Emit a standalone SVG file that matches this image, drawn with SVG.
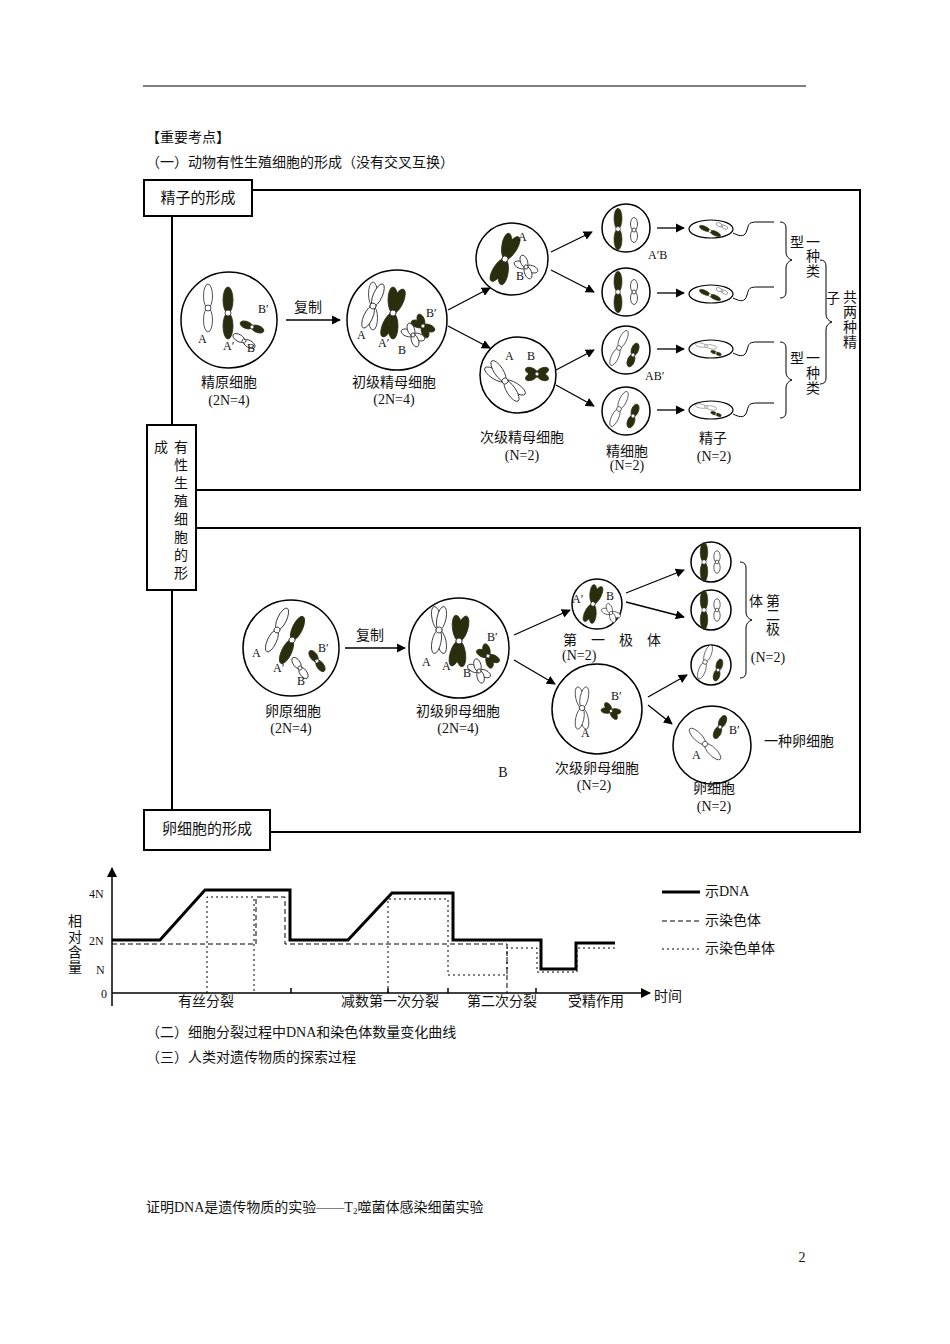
<svg xmlns="http://www.w3.org/2000/svg" width="950" height="1344" viewBox="0 0 950 1344">
<style>
text{font-family:"Liberation Serif","Noto Sans CJK SC",serif;font-size:14px;fill:#111}
.s{font-size:12px}.c{text-anchor:middle}
.w{fill:#fff;stroke:#222;stroke-width:0.8}
.d{fill:#2b2e0e;stroke:#2b2e0e;stroke-width:0.8}
.cell{fill:#fff;stroke:#000;stroke-width:1.5}
.ln{fill:none;stroke:#000;stroke-width:2}
.ar{stroke:#000;stroke-width:1.3;fill:none;marker-end:url(#ah)}
.br{fill:none;stroke:#000;stroke-width:1}
</style>
<defs>
<marker id="ah" viewBox="0 0 10 10" refX="9" refY="5" markerWidth="7" markerHeight="7" orient="auto"><path d="M0,0L10,5L0,10z"/></marker>
<g id="Lw"><ellipse class="w" cy="-12" rx="4.5" ry="12"/><ellipse class="w" cy="12" rx="4.5" ry="12"/><circle class="w" r="3"/></g>
<g id="Ld"><ellipse class="d" cy="-13" rx="5" ry="13"/><ellipse class="d" cy="13" rx="5" ry="13"/><circle class="w" r="3"/></g>
<g id="Sw"><ellipse class="w" cy="-6" rx="3.5" ry="6.5"/><ellipse class="w" cy="6" rx="3.5" ry="6.5"/><circle class="w" r="2"/></g>
<g id="Sd"><ellipse class="d" cy="-6" rx="3.5" ry="6.5"/><ellipse class="d" cy="6" rx="3.5" ry="6.5"/><circle class="w" r="2"/></g>
<g id="DLw"><use href="#Lw" transform="rotate(-12)"/><use href="#Lw" transform="rotate(12)"/></g>
<g id="DLd"><use href="#Ld" transform="rotate(-12)"/><use href="#Ld" transform="rotate(12)"/></g>
<g id="DSw"><use href="#Sw" transform="rotate(-25)"/><use href="#Sw" transform="rotate(25)"/></g>
<g id="DSd"><use href="#Sd" transform="rotate(-25)"/><use href="#Sd" transform="rotate(25)"/></g>
</defs>

<line x1="143" y1="86" x2="806" y2="86" stroke="#000" stroke-width="1.2"/>
<text x="146" y="142">【重要考点】</text>
<text x="146" y="167">（一）动物有性生殖细胞的形成（没有交叉互换）</text>

<g id="frames">
<polyline class="ln" points="252,190 860,190 860,490 196,490"/>
<polyline class="ln" points="196,528 860,528 860,832 270,832"/>
<line class="ln" x1="172" y1="216" x2="172" y2="425"/>
<line class="ln" x1="172" y1="590" x2="172" y2="810"/>
</g>
<g id="label-sperm"><rect x="144" y="180" width="108" height="36" fill="#fff" stroke="#000" stroke-width="2"/><text x="198" y="203" class="c" style="font-size:15px">精子的形成</text></g>
<g id="label-mid"><rect x="147" y="425" width="49" height="165" fill="#fff" stroke="#000" stroke-width="2"/>
<text x="161" y="452" class="c">成</text>
<text x="181" y="452" class="c">有</text><text x="181" y="470" class="c">性</text><text x="181" y="488" class="c">生</text><text x="181" y="506" class="c">殖</text><text x="181" y="524" class="c">细</text><text x="181" y="542" class="c">胞</text><text x="181" y="560" class="c">的</text><text x="181" y="578" class="c">形</text></g>
<g id="label-egg"><rect x="144" y="810" width="126" height="40" fill="#fff" stroke="#000" stroke-width="2"/><text x="207" y="834" class="c" style="font-size:15px">卵细胞的形成</text></g>

<g id="connectors">
<line class="ar" x1="286" y1="320" x2="340" y2="320"/>
<line class="ar" x1="448" y1="310" x2="490" y2="288"/>
<line class="ar" x1="448" y1="326" x2="490" y2="348"/>
<line class="ar" x1="551" y1="252" x2="592" y2="232"/>
<line class="ar" x1="551" y1="270" x2="594" y2="292"/>
<line class="ar" x1="556" y1="370" x2="594" y2="350"/>
<line class="ar" x1="556" y1="385" x2="594" y2="406"/>
<line class="ar" x1="657" y1="228" x2="684" y2="228"/>
<line class="ar" x1="657" y1="293" x2="684" y2="293"/>
<line class="ar" x1="657" y1="349" x2="684" y2="349"/>
<line class="ar" x1="657" y1="410" x2="684" y2="410"/>
<line class="ar" x1="345" y1="648" x2="405" y2="648"/>
<line class="ar" x1="514" y1="635" x2="570" y2="610"/>
<line class="ar" x1="514" y1="660" x2="555" y2="684"/>
<line class="ar" x1="626" y1="593" x2="684" y2="570"/>
<line class="ar" x1="626" y1="602" x2="684" y2="617"/>
<line class="ar" x1="648" y1="697" x2="687" y2="675"/>
<line class="ar" x1="648" y1="705" x2="672" y2="724"/>
</g>
<text x="308" y="312" class="c">复制</text>
<text x="370" y="640" class="c">复制</text>

<g id="spermatogonium"><circle class="cell" cx="229" cy="320" r="48"/>
<use href="#Lw" transform="translate(208,308)"/><use href="#Ld" transform="translate(228,313)"/>
<use href="#Sd" transform="translate(252,327) rotate(-70)"/><use href="#Sw" transform="translate(244,341) rotate(-60)"/>
<text x="198" y="343" class="s">A</text><text x="223" y="350" class="s">A′</text><text x="247" y="352" class="s">B</text><text x="258" y="313" class="s">B′</text>
<text x="229" y="387" class="c">精原细胞</text><text x="229" y="405" class="c">(2N=4)</text></g>

<g id="primary-spermatocyte"><circle class="cell" cx="397" cy="320" r="50"/>
<use href="#DLw" transform="translate(373,306) rotate(12)"/><use href="#DLd" transform="translate(393,313) rotate(12)"/>
<use href="#DSd" transform="translate(423,326) rotate(-45)"/><use href="#DSw" transform="translate(413,335) rotate(-45)"/>
<text x="357" y="339" class="s">A</text><text x="378" y="347" class="s">A′</text><text x="398" y="354" class="s">B</text><text x="426" y="317" class="s">B′</text>
<text x="394" y="387" class="c">初级精母细胞</text><text x="394" y="404" class="c">(2N=4)</text></g>

<g id="secondary-spermatocyte-1"><circle class="cell" cx="512" cy="259" r="36"/>
<use href="#DLd" transform="translate(505,259) rotate(20)"/><use href="#DSw" transform="translate(526,267) rotate(-45)"/>
<text x="518" y="241" class="s">A</text><text x="516" y="280" class="s">B</text></g>
<g id="secondary-spermatocyte-2"><circle class="cell" cx="518" cy="375" r="38"/>
<use href="#DLw" transform="translate(505,381) rotate(-45)"/><use href="#DSd" transform="translate(537,374) rotate(90)"/>
<text x="505" y="360" class="s">A</text><text x="527" y="360" class="s">B</text>
<text x="522" y="442" class="c">次级精母细胞</text><text x="522" y="460" class="c">(N=2)</text></g>

<g id="spermatids">
<circle class="cell" cx="626" cy="228" r="24"/><use href="#Ld" transform="translate(618,229) scale(0.8)"/><use href="#Sw" transform="translate(634,230)"/>
<circle class="cell" cx="626" cy="292" r="24"/><use href="#Ld" transform="translate(618,292) scale(0.8)"/><use href="#Sw" transform="translate(634,292)"/>
<circle class="cell" cx="626" cy="350" r="24"/><use href="#Lw" transform="translate(619,348) rotate(25) scale(0.8)"/><use href="#Sd" transform="translate(633,355) rotate(20)"/>
<circle class="cell" cx="626" cy="411" r="24"/><use href="#Lw" transform="translate(619,409) rotate(25) scale(0.8)"/><use href="#Sd" transform="translate(633,416) rotate(20)"/>
<text x="648" y="259" class="s">A′B</text><text x="645" y="380" class="s">AB′</text>
<text x="627" y="456" class="c">精细胞</text><text x="627" y="470" class="c">(N=2)</text></g>

<g id="sperm">
<ellipse class="cell" cx="711" cy="229" rx="22" ry="9" style="stroke-width:1.2"/><use href="#Ld" transform="translate(710,231) rotate(-65) scale(0.45)"/><use href="#Sw" transform="translate(722,226) rotate(-65) scale(0.5)"/>
<path class="br" d="M733,233 c8,4 12,4 14,-3 c2,-7 2,-8 12,-8 h15"/>
<ellipse class="cell" cx="711" cy="294" rx="22" ry="9" style="stroke-width:1.2"/><use href="#Ld" transform="translate(710,295) rotate(-65) scale(0.45)"/><use href="#Sw" transform="translate(722,291) rotate(-65) scale(0.5)"/>
<path class="br" d="M733,298 c8,4 12,4 14,-3 c2,-7 2,-8 12,-8 h15"/>
<ellipse class="cell" cx="711" cy="349" rx="22" ry="9" style="stroke-width:1.2"/><use href="#Lw" transform="translate(706,346) rotate(-80) scale(0.45)"/><use href="#Sd" transform="translate(716,353) rotate(-70) scale(0.45)"/>
<path class="br" d="M733,353 c8,4 12,4 14,-3 c2,-7 2,-8 12,-8 h15"/>
<ellipse class="cell" cx="711" cy="410" rx="22" ry="9" style="stroke-width:1.2"/><use href="#Lw" transform="translate(706,407) rotate(-80) scale(0.45)"/><use href="#Sd" transform="translate(716,414) rotate(-70) scale(0.45)"/>
<path class="br" d="M733,414 c8,4 12,4 14,-3 c2,-7 2,-8 12,-8 h15"/>
<text x="713" y="443" class="c">精子</text><text x="714" y="461" class="c">(N=2)</text></g>

<g id="braces-sperm">
<path class="br" d="M780,222 q6,0 6,6 v24 q0,6 6,8 q-6,2 -6,8 v24 q0,6 -6,6"/>
<path class="br" d="M780,342 q6,0 6,6 v24 q0,6 6,8 q-6,2 -6,8 v24 q0,6 -6,6"/>
<path class="br" d="M820,260 q6,0 6,6 v48 q0,6 6,8 q-6,2 -6,8 v48 q0,6 -6,6"/>
<text x="797" y="247" class="c">型</text><text x="813" y="247" class="c">一</text><text x="813" y="261" class="c">种</text><text x="813" y="276" class="c">类</text>
<text x="797" y="363" class="c">型</text><text x="813" y="363" class="c">一</text><text x="813" y="378" class="c">种</text><text x="813" y="393" class="c">类</text>
<text x="833" y="303" class="c">子</text><text x="850" y="302" class="c">共</text><text x="850" y="317" class="c">两</text><text x="850" y="332" class="c">种</text><text x="850" y="347" class="c">精</text></g>

<g id="oogonium"><circle class="cell" cx="291" cy="648" r="48"/>
<use href="#Lw" transform="translate(277,630) rotate(25)"/><use href="#Ld" transform="translate(292,640) rotate(25)"/>
<use href="#Sd" transform="translate(317,661) rotate(-35)"/><use href="#Sw" transform="translate(300,668) rotate(-35)"/>
<text x="252" y="657" class="s">A</text><text x="273" y="672" class="s">A′</text><text x="297" y="685" class="s">B</text><text x="318" y="652" class="s">B′</text>
<text x="293" y="716" class="c">卵原细胞</text><text x="291" y="733" class="c">(2N=4)</text></g>

<g id="primary-oocyte"><circle class="cell" cx="459" cy="648" r="50"/>
<use href="#DLw" transform="translate(439,630)"/><use href="#DLd" transform="translate(459,641) rotate(5)"/>
<use href="#DSd" transform="translate(488,656) rotate(-40)"/><use href="#DSw" transform="translate(479,671) rotate(-40)"/>
<text x="422" y="666" class="s">A</text><text x="442" y="670" class="s">A</text><text x="463" y="677" class="s">B</text><text x="487" y="641" class="s">B′</text>
<text x="458" y="716" class="c">初级卵母细胞</text><text x="458" y="733" class="c">(2N=4)</text></g>

<g id="first-polar-body"><circle class="cell" cx="597" cy="604" r="25"/>
<use href="#DLd" transform="translate(593,604) rotate(15) scale(0.75)"/><use href="#DSw" transform="translate(611,613) rotate(-45) scale(0.8)"/>
<text x="572" y="603" class="s">A′</text><text x="606" y="600" class="s">B</text>
<text x="563" y="645">第　一　极　体</text><text x="562" y="660">(N=2)</text></g>

<g id="secondary-oocyte"><circle class="cell" cx="597" cy="709" r="45"/>
<use href="#DLw" transform="translate(582,708) scale(0.9)"/><use href="#DSd" transform="translate(611,711) rotate(-60) scale(0.8)"/>
<text x="581" y="737" class="s">A</text><text x="611" y="700" class="s">B′</text>
<text x="597" y="773" class="c">次级卵母细胞</text><text x="594" y="790" class="c">(N=2)</text></g>
<text x="503" y="777" class="c">B</text>

<g id="second-polar-bodies">
<circle class="cell" cx="711" cy="562" r="20"/><use href="#Ld" transform="translate(704,562) scale(0.75)"/><use href="#Sw" transform="translate(717,562) scale(0.9)"/>
<circle class="cell" cx="711" cy="610" r="20"/><use href="#Ld" transform="translate(704,610) scale(0.75)"/><use href="#Sw" transform="translate(717,610) scale(0.9)"/>
<circle class="cell" cx="711" cy="665" r="20"/><use href="#Lw" transform="translate(705,662) rotate(20) scale(0.75)"/><use href="#Sd" transform="translate(718,670) rotate(15) scale(0.9)"/>
<path class="br" d="M740,562 q6,0 6,6 v44 q0,6 6,8 q-6,2 -6,8 v44 q0,6 -6,6"/>
<text x="756" y="606" class="c">体</text><text x="773" y="606" class="c">第</text><text x="773" y="620" class="c">二</text><text x="773" y="634" class="c">极</text>
<text x="768" y="662" class="c">(N=2)</text></g>

<g id="egg"><circle class="cell" cx="712" cy="745" r="39"/>
<use href="#Lw" transform="translate(705,744) rotate(-45) scale(0.9)"/><use href="#Sd" transform="translate(720,727) rotate(25)"/>
<text x="692" y="759" class="s">A</text><text x="729" y="734" class="s">B′</text>
<text x="714" y="793" class="c">卵细胞</text><text x="714" y="811" class="c">(N=2)</text>
<text x="764" y="746">一种卵细胞</text></g>

<g id="graph" style="font-size:11px">
<line x1="112" y1="1006" x2="112" y2="868" stroke="#000" stroke-width="1.5" marker-end="url(#ah)"/>
<line x1="112" y1="993" x2="650" y2="993" stroke="#000" stroke-width="1.5" marker-end="url(#ah)"/>
<g stroke="#000" stroke-width="1.5"><line x1="291" y1="993" x2="291" y2="988"/><line x1="388" y1="993" x2="388" y2="988"/><line x1="448" y1="993" x2="448" y2="988"/><line x1="536" y1="993" x2="536" y2="988"/></g>
<polyline fill="none" stroke="#000" stroke-width="3" points="112,940 160,940 205,890 290,890 290,940 348,940 392,893 453,893 453,940 541,940 541,969 576,969 576,943 615,943"/>
<polyline fill="none" stroke="#000" stroke-width="1" stroke-dasharray="5,3" points="112,944 256,944 256,897 285,897 285,944 507,944 507,993"/>
<polyline fill="none" stroke="#000" stroke-width="1" stroke-dasharray="2,3" points="207,993 207,897 254,897 254,993"/>
<polyline fill="none" stroke="#000" stroke-width="1" stroke-dasharray="2,3" points="388,993 388,899 448,899 448,975 507,975 507,948 537,948 537,972 577,972 577,948 615,948"/>
<text x="89" y="898" style="font-size:12px">4N</text><text x="89" y="945" style="font-size:12px">2N</text><text x="96" y="974" style="font-size:12px">N</text><text x="101" y="998" style="font-size:12px">0</text>
<text x="75" y="926" class="c">相</text><text x="75" y="942" class="c">对</text><text x="75" y="957" class="c">含</text><text x="75" y="972" class="c">量</text>
<text x="206" y="1006" class="c">有丝分裂</text><text x="390" y="1006" class="c">减数第一次分裂</text><text x="502" y="1006" class="c">第二次分裂</text><text x="596" y="1006" class="c">受精作用</text>
<text x="668" y="1001" class="c">时间</text>
<line x1="662" y1="892" x2="700" y2="892" stroke="#000" stroke-width="3"/><text x="705" y="896">示DNA</text>
<line x1="662" y1="921" x2="700" y2="921" stroke="#000" stroke-dasharray="5,3"/><text x="705" y="925">示染色体</text>
<line x1="662" y1="949" x2="700" y2="949" stroke="#000" stroke-dasharray="2,3"/><text x="705" y="953">示染色单体</text>
</g>

<text x="146" y="1037">（二）细胞分裂过程中DNA和染色体数量变化曲线</text>
<text x="146" y="1062">（三）人类对遗传物质的探索过程</text>
<text x="146" y="1212">证明DNA是遗传物质的实验——T<tspan style="font-size:9px" dy="2">2</tspan><tspan dy="-2">噬菌体感染细菌实验</tspan></text>
<text x="802" y="1262" class="c">2</text>
</svg>
